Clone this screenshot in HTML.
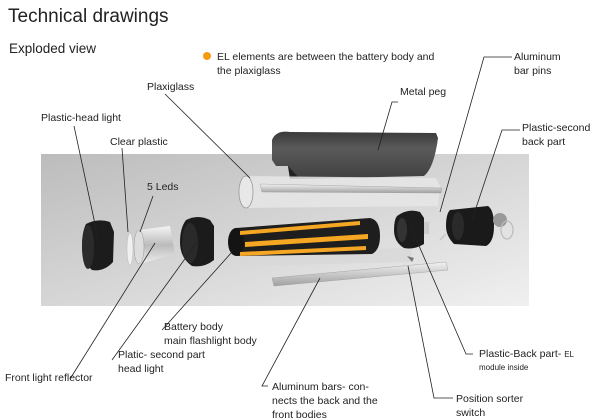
<!DOCTYPE html>
<html><head><meta charset="utf-8"><style>
html,body{margin:0;padding:0;background:#fff}
svg{display:block}
text{font-family:"Liberation Sans",sans-serif;fill:#222}
</style></head><body>
<svg width="600" height="419" viewBox="0 0 600 419" xmlns="http://www.w3.org/2000/svg">
<defs>
<linearGradient id="bg" x1="0" y1="0" x2="1" y2="1">
<stop offset="0" stop-color="#bcbcbc"/><stop offset="0.5" stop-color="#d6d6d6"/><stop offset="1" stop-color="#f0f0f0"/>
</linearGradient>
<linearGradient id="peg" x1="0" y1="0" x2="0" y2="1">
<stop offset="0" stop-color="#3a3a3a"/><stop offset="0.35" stop-color="#5a5a5a"/><stop offset="1" stop-color="#404040"/>
</linearGradient>
<linearGradient id="bar" x1="0" y1="0" x2="0" y2="1">
<stop offset="0" stop-color="#f2f2f2"/><stop offset="1" stop-color="#a0a0a0"/>
</linearGradient>
<linearGradient id="cone" x1="0" y1="0" x2="0" y2="1">
<stop offset="0" stop-color="#f4f4f4"/><stop offset="0.5" stop-color="#bbb"/><stop offset="1" stop-color="#eee"/>
</linearGradient>
</defs>
<rect x="41" y="154" width="488" height="152" fill="url(#bg)"/>

<text x="8" y="22" font-size="19">Technical drawings</text>
<text x="9" y="53" font-size="13.5">Exploded view</text>
<circle cx="207" cy="56" r="4" fill="#f39c12"/>
<text x="217" y="60" font-size="10.5">EL elements are between the battery body and</text>
<text x="217" y="74" font-size="10.5">the plaxiglass</text>
<text x="514" y="60" font-size="10.5">Aluminum</text>
<text x="514" y="74" font-size="10.5">bar pins</text>
<text x="400" y="95" font-size="10.5">Metal peg</text>
<text x="147" y="90" font-size="10.5">Plaxiglass</text>
<text x="41" y="121" font-size="10.5">Plastic-head light</text>
<text x="110" y="145" font-size="10.5">Clear plastic</text>
<text x="522" y="131" font-size="10.5">Plastic-second</text>
<text x="522" y="145" font-size="10.5">back part</text>
<text x="147" y="190" font-size="10.5">5 Leds</text>
<text x="164" y="330" font-size="10.5">Battery body</text>
<text x="164" y="344" font-size="10.5">main flashlight body</text>
<text x="118" y="358" font-size="10.5">Platic- second part</text>
<text x="118" y="372" font-size="10.5">head light</text>
<text x="5" y="381" font-size="10.5">Front light reflector</text>
<text x="479" y="357" font-size="10.5">Plastic-Back part- <tspan font-size="8">EL</tspan></text>
<text x="479" y="370" font-size="8">module inside</text>
<text x="272" y="390" font-size="10.5">Aluminum bars- con-</text>
<text x="272" y="404" font-size="10.5">nects the back and the</text>
<text x="272" y="418" font-size="10.5">front bodies</text>
<text x="456" y="402" font-size="10.5">Position sorter</text>
<text x="456" y="416" font-size="10.5">switch</text>

<!-- metal peg -->
<path d="M272 140 Q276 130 290 132 L436 133 L438 138 Q434 168 424 176 L300 179 L290 179 L288 166 L276 166 L272 160 Z" fill="url(#peg)"/>
<path d="M288 166 L300 179 L290 179 Z" fill="#222"/>
<!-- plexiglass tube -->
<path d="M246 176 L436 178 L440 186 L438 206 L248 208 Z" fill="#e6e6e6" opacity="0.85"/>
<ellipse cx="246" cy="192" rx="7" ry="16" fill="#e8e8e8" stroke="#999" stroke-width="0.8"/>
<path d="M260 184 L442 188 L441 193 L262 192 Z" fill="url(#bar)" stroke="#999" stroke-width="0.4"/>
<!-- head light -->
<path d="M86 224 Q98 218 110 222 L114 232 L113 262 Q104 272 92 270 Q82 262 82 246 Q82 232 86 224 Z" fill="#1c1c1c"/>
<ellipse cx="88" cy="247" rx="6" ry="22" fill="#2b2b2b"/>
<!-- clear plastic -->
<ellipse cx="130" cy="249" rx="3" ry="16" fill="#f0f0f0" stroke="#bbb" stroke-width="0.5"/>
<!-- reflector cone -->
<path d="M138 230 L170 226 L175 254 L140 264 Z" fill="url(#cone)"/>
<ellipse cx="139" cy="247" rx="5" ry="17" fill="#ddd" stroke="#999" stroke-width="0.5"/>
<!-- second part head -->
<path d="M186 220 Q198 214 210 220 L214 226 L214 260 Q204 268 192 266 Q180 258 180 242 Q180 228 186 220 Z" fill="#1b1b1b"/>
<ellipse cx="190" cy="243" rx="8" ry="20" fill="#2a2a2a"/>
<!-- lower bar 1 -->
<path d="M238 252 L412 248 L410 262 L242 266 Z" fill="#d8d8d8" opacity="0.85"/>
<!-- battery body -->
<path d="M236 228 L370 218 Q380 220 380 236 Q380 250 372 254 L236 256 Z" fill="#1e1e1e"/>
<ellipse cx="236" cy="242" rx="8" ry="14" fill="#141414"/>
<path d="M240 231 L360 221 L360 225 L240 235 Z" fill="#f5a623"/>
<path d="M245 242 L368 234 L368 239 L245 247 Z" fill="#f5a623"/>
<path d="M240 252 L366 246 L366 250 L240 256 Z" fill="#f5a623"/>
<!-- lower bar 2 -->
<path d="M272 278 L446 262 L448 270 L274 286 Z" fill="url(#bar)" stroke="#999" stroke-width="0.4"/>
<path d="M407 256 L414 258 L412 262 Z" fill="#777"/>
<!-- back part -->
<path d="M397 216 Q408 208 420 212 L424 218 L424 244 Q414 250 404 248 Q394 242 394 230 Q394 220 397 216 Z" fill="#1c1c1c"/>
<ellipse cx="402" cy="230" rx="5" ry="12" fill="#333"/>
<rect x="424" y="222" width="5" height="12" fill="#ccc"/>
<!-- pins -->
<path d="M437 207 L444 210" stroke="#ddd" stroke-width="2"/>
<path d="M440 240 L446 234" stroke="#ccc" stroke-width="2"/>
<!-- second back part -->
<path d="M450 210 L488 206 Q494 210 494 226 Q494 242 486 246 L454 244 Q446 236 446 226 Q446 214 450 210 Z" fill="#1a1a1a"/>
<ellipse cx="458" cy="226" rx="6" ry="14" fill="#2a2a2a"/>
<ellipse cx="500" cy="220" rx="7" ry="7" fill="#999"/>
<ellipse cx="507" cy="230" rx="6" ry="9" fill="none" stroke="#bbb" stroke-width="1.2"/>

<!-- leader lines -->
<g stroke="#222" stroke-width="0.8" fill="none">
<path d="M165 94 L250 178"/>
<path d="M74 126 L98 238"/>
<path d="M122 148 L128 232"/>
<path d="M153 196 L140 232"/>
<path d="M155 243 L70 379"/>
<path d="M200 238 L112 360"/>
<path d="M232 252 L162 330"/>
<path d="M398 102 L392 102 L378 150"/>
<path d="M512 57 L484 57 L440 212"/>
<path d="M520 130 L502 130 L472 220"/>
<path d="M410 225 L466 354 L473 354"/>
<path d="M320 278 L262 386 L268 386"/>
<path d="M408 266 L434 398 L453 398"/>
</g>
</svg>
</body></html>
